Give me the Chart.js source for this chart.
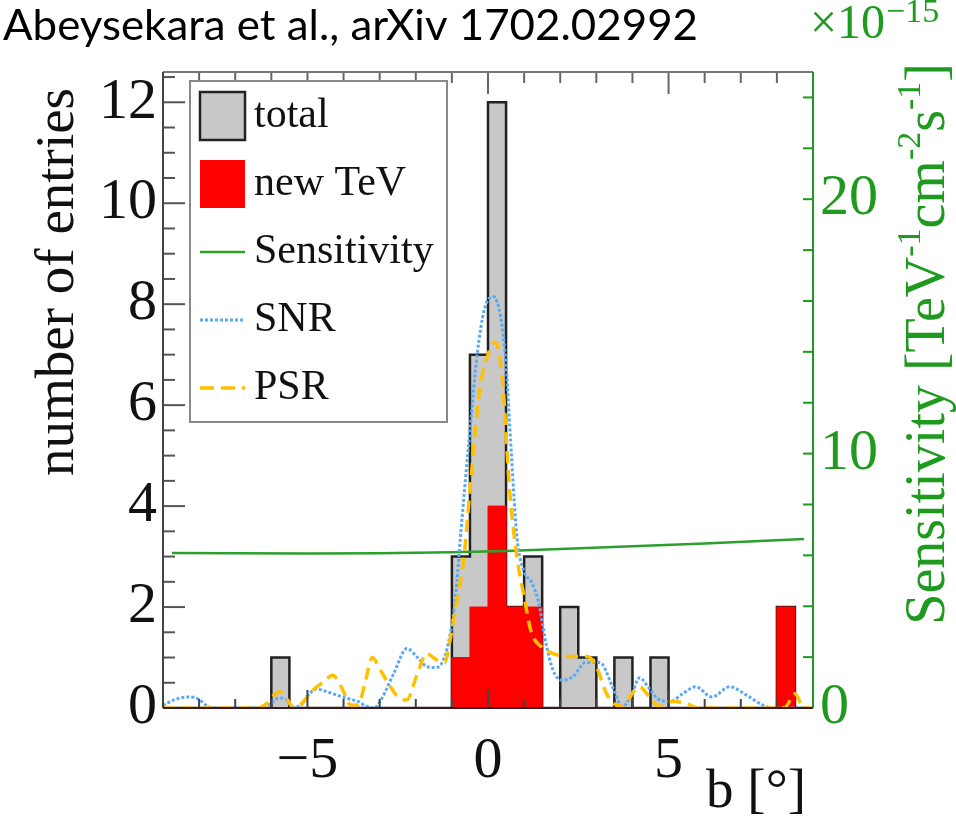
<!DOCTYPE html>
<html>
<head>
<meta charset="utf-8">
<script src="https://cdn.jsdelivr.net/npm/chart.js@4.4.0/dist/chart.umd.min.js"></script>
<style>
html,body{margin:0;padding:0;background:#fff;}
#wrap{width:956px;height:826px;position:relative;}
.pre{position:absolute;left:-999px;top:0;}
</style>
</head>
<body>
<div id="wrap"><canvas id="chart" width="956" height="826"></canvas></div>
<span class="pre" style="font-family:'Liberation Serif'">0123 total</span>
<span class="pre" style="font-family:Lato">Abeysekara</span>
<script>
// histogram bins (lower edges, 0.5 deg wide), last edge = 9
var binEdges = [-9,-8.5,-8,-7.5,-7,-6.5,-6,-5.5,-5,-4.5,-4,-3.5,-3,-2.5,-2,-1.5,-1,-0.5,
                0,0.5,1,1.5,2,2.5,3,3.5,4,4.5,5,5.5,6,6.5,7,7.5,8,8.5];
var lastEdge = 9;
var totalCounts = [0,0,0,0,0,0,1,0,0,0,0,0,0,0,0,0,3,7,12,2,3,0,2,1,0,1,0,1,0,0,0,0,0,0,2,0];
var tevCounts   = [0,0,0,0,0,0,0,0,0,0,0,0,0,0,0,0,1,2,4,2,2,0,0,0,0,0,0,0,0,0,0,0,0,0,2,0];

// sensitivity (right axis, x1e-15)
var sensX = [-8.75,-7,-5,-3,-1,0.5,2,4,6,8.75];
var sensY = [6.09,6.08,6.07,6.08,6.12,6.17,6.25,6.36,6.47,6.64];

// SNR curve
var snrX = [-9,-8.7,-8.3,-8.0,-7.8,-7.6,-6.3,-6.0,-5.8,-5.6,-5.4,-5.2,-4.95,-4.75,-4.5,-4.2,-3.9,-3.6,-3.35,-3.15,
            -2.95,-2.6,-2.25,-1.95,-1.7,-1.45,-1.25,-1.05,-0.9,-0.75,-0.5,-0.3,-0.1,0.15,0.35,0.5,0.65,0.8,1.0,1.2,
            1.4,1.6,1.8,2.05,2.35,2.7,3.1,3.45,3.72,3.95,4.2,4.45,4.75,5.05,5.4,5.75,6.2,6.7,7.15,7.6,7.9,9];
var snrY = [0.05,0.16,0.22,0.17,0.05,0,0,0.1,0.2,0.17,0.02,0.05,0.28,0.38,0.33,0.26,0.19,0.13,0.03,0,
            0.18,0.7,1.18,1.0,0.82,0.8,0.93,1.45,2.2,3.5,5.5,7.0,7.9,8.15,7.75,6.8,5.0,3.4,2.7,2.5,
            2.1,1.3,0.75,0.55,0.62,0.9,0.9,0.42,0.03,0.22,0.6,0.4,0.16,0.13,0.29,0.42,0.22,0.42,0.26,0.06,0,0];

// PSR curve
var psrX = [-9,-6.4,-6.1,-5.9,-5.75,-5.55,-5.38,-5.2,-4.85,-4.55,-4.3,-4.05,-3.8,-3.6,-3.42,-3.2,-2.98,-2.7,-2.45,-2.25,
            -1.97,-1.7,-1.42,-1.2,-1.05,-0.87,-0.68,-0.5,-0.25,0,0.2,0.4,0.6,0.8,1.0,1.2,1.5,1.8,2.3,2.75,
            3.0,3.28,3.5,3.74,4.0,4.2,4.47,4.75,5.1,5.5,5.8,8.2,8.5,8.75,9];
var psrY = [0,0,0.1,0.27,0.32,0.16,0,0.06,0.35,0.52,0.65,0.4,0.06,0.06,0.45,1.0,0.75,0.42,0.19,0.16,
            0.65,1.08,0.95,0.9,1.35,2.1,2.9,4.3,6.2,7.0,7.25,6.5,4.3,3.0,2.2,1.5,1.2,1.08,1.02,1.02,
            0.82,0.29,0.08,0.03,0.29,0.42,0.22,0.03,0.13,0.09,0,0,0.28,0,0];

var xTicks = [-5,0,5];
var yTicks = [0,2,4,6,8,10,12];
var y2Ticks = [0,10,20];

var green = '#1e9a1e';
var serif = "'Liberation Serif'";

function histPoints(counts){
  var pts = binEdges.map(function(e,i){ return {x:e, y:counts[i]}; });
  pts.push({x:lastEdge, y:0});
  return pts;
}
function xy(xs, ys){
  return xs.map(function(v,i){ return {x:v, y:ys[i]}; });
}

var framePlugin = {
  id: 'frame',
  afterDatasetsDraw: function(chart){
    var ctx = chart.ctx, a = chart.chartArea;
    var sx = chart.scales.x, sy = chart.scales.y, sy2 = chart.scales.y2;
    ctx.save();
    ctx.lineWidth = 2;
    // x ticks, top and bottom
    for (var v = -9; v <= 9; v++) {
      var px = sx.getPixelForValue(v);
      var major = (v % 5 === 0);
      ctx.strokeStyle = '#666';
      ctx.beginPath(); ctx.moveTo(px, a.top); ctx.lineTo(px, a.top + (major ? 22 : 11)); ctx.stroke();
      ctx.strokeStyle = '#444';
      ctx.beginPath(); ctx.moveTo(px, a.bottom); ctx.lineTo(px, a.bottom - (major ? 18 : 9)); ctx.stroke();
    }
    // left ticks
    ctx.strokeStyle = '#555';
    for (var k = 0; k <= 25; k++) {
      var py = sy.getPixelForValue(k * 0.5);
      var len = (k % 4 === 0) ? 22 : 12;
      ctx.beginPath(); ctx.moveTo(a.left, py); ctx.lineTo(a.left + len, py); ctx.stroke();
    }
    // right ticks
    ctx.strokeStyle = green;
    for (var m = 0; m <= 24; m += 2) {
      var py2 = sy2.getPixelForValue(m);
      ctx.beginPath(); ctx.moveTo(a.right, py2); ctx.lineTo(a.right - 10, py2); ctx.stroke();
    }
    // frame
    ctx.strokeStyle = '#777';
    ctx.beginPath(); ctx.moveTo(a.left, a.top); ctx.lineTo(a.right, a.top); ctx.stroke();
    ctx.strokeStyle = '#444';
    ctx.beginPath(); ctx.moveTo(a.left, a.top); ctx.lineTo(a.left, a.bottom); ctx.stroke();
    ctx.strokeStyle = '#3a1a1a';
    ctx.beginPath(); ctx.moveTo(a.left, a.bottom); ctx.lineTo(a.right, a.bottom); ctx.stroke();
    ctx.strokeStyle = green;
    ctx.beginPath(); ctx.moveTo(a.right, a.top); ctx.lineTo(a.right, a.bottom); ctx.stroke();
    ctx.restore();
  },
  afterDraw: function(chart){
    var ctx = chart.ctx;
    ctx.save();
    // header
    ctx.fillStyle = '#000';
    ctx.font = '43px Lato';
    ctx.textBaseline = 'alphabetic';
    ctx.textAlign = 'left';
    var head = 'Abeysekara et al., arXiv 1702.02992';
    var w = ctx.measureText(head).width;
    ctx.save();
    ctx.translate(3, 40);
    ctx.scale(695 / w, 1);
    ctx.fillText(head, 0, 0);
    ctx.restore();

    // left axis title
    ctx.save();
    ctx.translate(73, 88);
    ctx.rotate(-Math.PI / 2);
    ctx.font = '55px ' + serif;
    ctx.textAlign = 'right';
    ctx.fillStyle = '#111';
    ctx.fillText('number of entries', 0, 0);
    ctx.restore();

    // x title
    ctx.font = '55px ' + serif;
    ctx.textAlign = 'right';
    ctx.fillStyle = '#111';
    ctx.fillText('b [\u00b0]', 806, 807);

    // right axis title with superscripts
    var parts = [['Sensitivity [TeV',0],['-1',1],['cm',0],['-2',1],['s',0],['-1',1],[']',0]];
    var big = 56, small = 34;
    ctx.textAlign = 'left';
    var total = 0;
    parts.forEach(function(p){
      ctx.font = (p[1] ? small : big) + 'px ' + serif;
      total += ctx.measureText(p[0]).width;
    });
    ctx.save();
    ctx.translate(944, 63 + total);
    ctx.rotate(-Math.PI / 2);
    ctx.fillStyle = green;
    var cx = 0;
    parts.forEach(function(p){
      ctx.font = (p[1] ? small : big) + 'px ' + serif;
      ctx.fillText(p[0], cx, p[1] ? -24 : 0);
      cx += ctx.measureText(p[0]).width;
    });
    ctx.restore();

    // exponent
    ctx.fillStyle = green;
    ctx.font = '48px ' + serif;
    ctx.fillText('\u00d710', 810, 38);
    var ew = ctx.measureText('\u00d710').width;
    ctx.font = '34px ' + serif;
    ctx.fillText('\u221215', 810 + ew + 1, 22);

    // legend
    var lx = 190, ly = 81, lw = 257, lh = 341;
    ctx.fillStyle = '#fff';
    ctx.fillRect(lx, ly, lw, lh);
    ctx.strokeStyle = '#888';
    ctx.lineWidth = 2;
    ctx.strokeRect(lx, ly, lw, lh);
    var rows = [116, 184, 252, 320, 388];
    // total
    ctx.fillStyle = '#c8c8c8';
    ctx.fillRect(200, 92, 45, 48);
    ctx.strokeStyle = '#222';
    ctx.lineWidth = 2.5;
    ctx.strokeRect(200, 92, 45, 48);
    // new TeV
    ctx.fillStyle = '#ff0000';
    ctx.fillRect(200, 160, 45, 48);
    // sensitivity
    ctx.strokeStyle = '#2ca02c';
    ctx.lineWidth = 2.5;
    ctx.beginPath(); ctx.moveTo(200, rows[2]); ctx.lineTo(245, rows[2]); ctx.stroke();
    // SNR
    ctx.strokeStyle = '#5aaaf2';
    ctx.lineWidth = 3;
    ctx.setLineDash([3, 2]);
    ctx.beginPath(); ctx.moveTo(200, rows[3]); ctx.lineTo(245, rows[3]); ctx.stroke();
    // PSR
    ctx.strokeStyle = '#ffc000';
    ctx.lineWidth = 3.5;
    ctx.setLineDash([14, 7]);
    ctx.beginPath(); ctx.moveTo(200, rows[4]); ctx.lineTo(245, rows[4]); ctx.stroke();
    ctx.setLineDash([]);
    ctx.fillStyle = '#111';
    ctx.font = '42px ' + serif;
    ctx.textAlign = 'left';
    ctx.textBaseline = 'middle';
    var names = ['total', 'new TeV', 'Sensitivity', 'SNR', 'PSR'];
    names.forEach(function(n, i){ ctx.fillText(n, 254, rows[i]); });
    ctx.restore();
  }
};

function drawChart(){
  var ctx = document.getElementById('chart');
  new Chart(ctx, {
    type: 'line',
    data: {
      datasets: [
        {label: 'PSR', data: xy(psrX, psrY), yAxisID: 'y', borderColor: '#ffc000', borderWidth: 3.5,
         borderDash: [12, 7], pointRadius: 0, cubicInterpolationMode: 'monotone', fill: false, order: 1},
        {label: 'SNR', data: xy(snrX, snrY), yAxisID: 'y', borderColor: '#5aaaf2', borderWidth: 3,
         borderDash: [3, 2], pointRadius: 0, cubicInterpolationMode: 'monotone', fill: false, order: 2},
        {label: 'Sensitivity', data: xy(sensX, sensY), yAxisID: 'y2', borderColor: '#2ca02c', borderWidth: 2.5,
         pointRadius: 0, fill: false, order: 3},
        {label: 'new TeV', data: histPoints(tevCounts), yAxisID: 'y', stepped: 'before', fill: 'origin',
         backgroundColor: '#ff0000', borderColor: '#ff0000', borderWidth: 1, pointRadius: 0, order: 4},
        {label: 'total', data: histPoints(totalCounts), yAxisID: 'y', stepped: 'before', fill: 'origin',
         backgroundColor: '#c8c8c8', borderColor: '#222', borderWidth: 2.5, pointRadius: 0, order: 5}
      ]
    },
    options: {
      responsive: false,
      animation: false,
      events: [],
      layout: {padding: {top: 72, left: 0, right: 0, bottom: 0}},
      plugins: {legend: {display: false}, tooltip: {enabled: false}},
      scales: {
        x: {
          type: 'linear', min: -9, max: 9,
          grid: {display: false, drawTicks: false}, border: {display: false},
          afterBuildTicks: function(s){ s.ticks = xTicks.map(function(v){ return {value: v}; }); },
          afterFit: function(s){ s.height = 118; },
          ticks: {
            autoSkip: false, maxRotation: 0, padding: 19, color: '#111',
            font: {family: serif, size: 58, lineHeight: 1.2},
            callback: function(v){ return v < 0 ? '\u2212' + Math.abs(v) : String(v); }
          }
        },
        y: {
          position: 'left', min: 0, max: 12.6,
          grid: {display: false, drawTicks: false}, border: {display: false},
          afterBuildTicks: function(s){ s.ticks = yTicks.map(function(v){ return {value: v}; }); },
          afterFit: function(s){ s.width = 163; },
          ticks: {autoSkip: false, padding: 6, color: '#111', font: {family: serif, size: 58, lineHeight: 1.2}}
        },
        y2: {
          position: 'right', min: 0, max: 25,
          grid: {display: false, drawTicks: false}, border: {display: false},
          afterBuildTicks: function(s){ s.ticks = y2Ticks.map(function(v){ return {value: v}; }); },
          afterFit: function(s){ s.width = 143; },
          ticks: {autoSkip: false, padding: 7, color: green, font: {family: serif, size: 58, lineHeight: 1.2}}
        }
      }
    },
    plugins: [framePlugin]
  });
}

var done = false;
function go(){ if (!done) { done = true; drawChart(); } }
if (document.fonts && document.fonts.load) {
  Promise.all([
    document.fonts.load("58px 'Liberation Serif'"),
    document.fonts.load('42px Lato')
  ]).then(go, go);
  setTimeout(go, 300);
} else {
  go();
}
</script>
</body>
</html>
